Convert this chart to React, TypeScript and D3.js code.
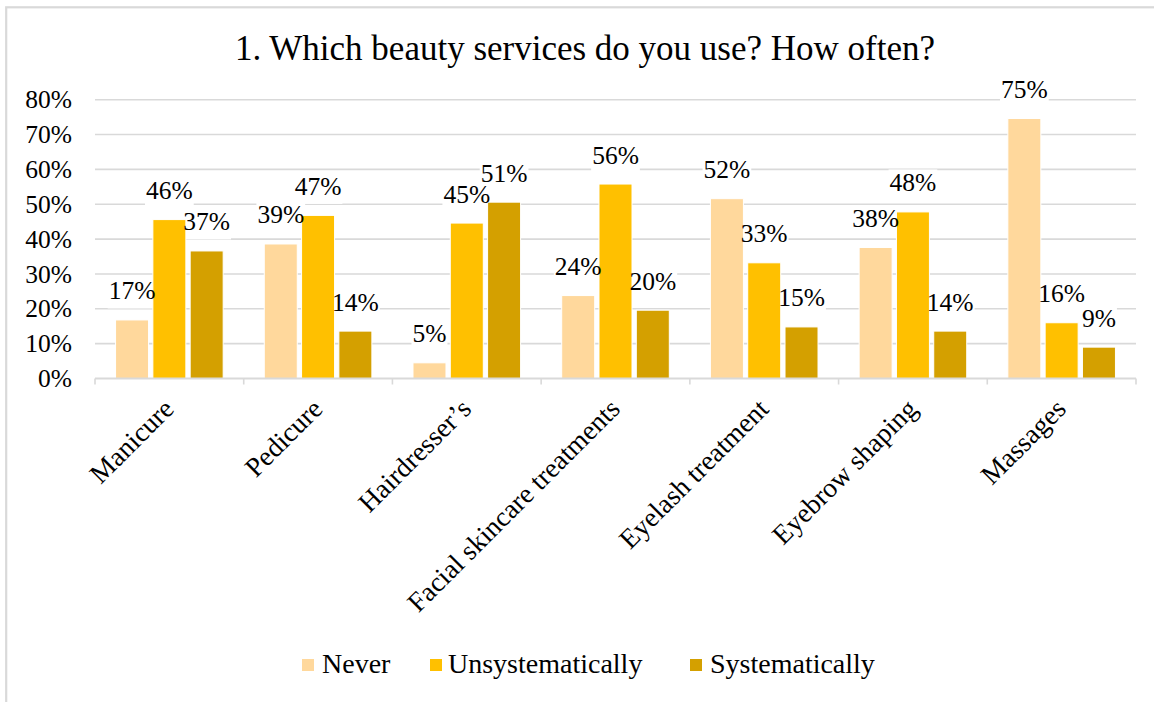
import React from "react";
import * as d3 from "d3";

const categories = [
  "Manicure",
  "Pedicure",
  "Hairdresser’s",
  "Facial skincare treatments",
  "Eyelash treatment",
  "Eyebrow shaping",
  "Massages",
];
const seriesNames = ["Never", "Unsystematically", "Systematically"];
const neverValues = [16.8, 38.6, 4.5, 23.8, 51.6, 37.6, 74.6];
const unsystematicValues = [45.6, 46.8, 44.6, 55.8, 33.2, 47.8, 16.0];
const systematicValues = [36.6, 13.6, 50.6, 19.6, 14.8, 13.6, 9.0];
const yTicks = [0, 10, 20, 30, 40, 50, 60, 70, 80];
const colors = ["#FFD89C", "#FFC000", "#D4A000"];
const title = "1. Which beauty services do you use? How often?";

const W = 1154;
const H = 702;
const plotLeft = 95;
const plotRight = 1136;
const plotTop = 99.7;
const plotBottom = 378.5;
const FONT = "'Liberation Serif', 'Times New Roman', serif";

export default function App() {
  const allSeries = [neverValues, unsystematicValues, systematicValues];
  const x0 = d3.scaleBand<string>().domain(categories).range([plotLeft, plotRight]).paddingInner(0).paddingOuter(0);
  const x1 = d3
    .scaleBand<string>()
    .domain(seriesNames)
    .range([0, x0.bandwidth()])
    .paddingInner(0.1153)
    .paddingOuter(0.551);
  const y = d3.scaleLinear().domain([0, 80]).range([plotBottom, plotTop]);

  const labelFont = 25.5;
  const bars: any[] = [];
  const labels: any[] = [];
  categories.forEach((c, i) => {
    seriesNames.forEach((s, j) => {
      const v = allSeries[j][i];
      const bx = (x0(c) as number) + (x1(s) as number);
      const bw = x1.bandwidth();
      const top = y(v);
      bars.push({ key: `${i}-${j}`, x: bx, y: top, w: bw, h: plotBottom - top, fill: colors[j] });
      const txt = `${Math.round(v)}%`;
      const tw = (txt.length === 2 ? 1.333 : 1.833) * labelFont;
      labels.push({ key: `${i}-${j}`, cx: bx + bw / 2, base: top - 20.5, txt, tw });
    });
  });

  const legendItems = [
    { name: seriesNames[0], sx: 302, tx: 322 },
    { name: seriesNames[1], sx: 430, tx: 448 },
    { name: seriesNames[2], sx: 690, tx: 710 },
  ];

  return (
    <svg
      width={W}
      height={H}
      style={{ position: "absolute", left: 0, top: 0, background: "#fff" }}
      fontFamily={FONT}
    >
      <rect x={0} y={0} width={W} height={H} fill="#fff" />
      <rect x={6.2} y={7.3} width={W + 20} height={H + 20} fill="#fff" stroke="#d9d9d9" strokeWidth={2.2} />
      <text x={585} y={60} textAnchor="middle" fontSize={35} fill="#000" fontFamily={FONT}>
        {title}
      </text>
      {yTicks.filter((t) => t > 0).map((t) => (
        <line key={t} x1={plotLeft} x2={plotRight} y1={y(t)} y2={y(t)} stroke="#d9d9d9" strokeWidth={1.6} />
      ))}
      {yTicks.map((t) => (
        <text key={t} x={72} y={y(t) + 8.6} textAnchor="end" fontSize={25.5} fill="#000" fontFamily={FONT}>
          {`${t}%`}
        </text>
      ))}
      {labels.map((l) => (
        <rect key={"b" + l.key} x={l.cx - l.tw / 2 - 1} y={l.base - 22} width={l.tw + 2} height={31} fill="#fff" />
      ))}
      {bars.map((b) => (
        <rect key={b.key} x={b.x} y={b.y} width={b.w} height={b.h} fill={b.fill} stroke="#fff" strokeWidth={1} />
      ))}
      <line x1={plotLeft} x2={plotRight} y1={plotBottom} y2={plotBottom} stroke="#d9d9d9" strokeWidth={1.8} />
      {d3.range(categories.length + 1).map((i) => {
        const xx = plotLeft + i * x0.step();
        return <line key={i} x1={xx} x2={xx} y1={plotBottom} y2={plotBottom + 6} stroke="#d9d9d9" strokeWidth={1.6} />;
      })}
      {labels.map((l) => (
        <text key={"t" + l.key} x={l.cx} y={l.base} textAnchor="middle" fontSize={labelFont} fill="#000" fontFamily={FONT}>
          {l.txt}
        </text>
      ))}
      {categories.map((c) => {
        const cx = (x0(c) as number) + x0.bandwidth() / 2 + 6;
        const cy = plotBottom + 32;
        return (
          <text
            key={c}
            x={cx}
            y={cy}
            textAnchor="end"
            fontSize={27.5}
            fill="#000"
            fontFamily={FONT}
            transform={`rotate(-45 ${cx} ${cy})`}
          >
            {c}
          </text>
        );
      })}
      {legendItems.map((it, j) => (
        <g key={it.name}>
          <rect x={it.sx} y={659} width={12} height={12} fill={colors[j]} />
          <text x={it.tx} y={673} fontSize={28} fill="#000" fontFamily={FONT}>
            {it.name}
          </text>
        </g>
      ))}
    </svg>
  );
}
